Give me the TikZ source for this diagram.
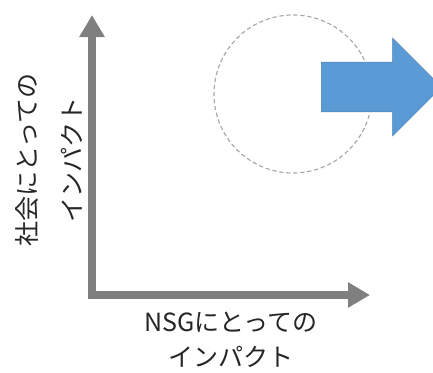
\documentclass[tikz,border=0pt]{standalone}
\usepackage{fontspec}
\setmainfont{Noto Sans CJK JP}
\usetikzlibrary{arrows.meta,shapes.arrows}

\definecolor{axisgray}{HTML}{7F7F7F}
\definecolor{ringgray}{HTML}{A6A6A6}
\definecolor{shiftblue}{HTML}{5B9BD5}
\definecolor{shiftedge}{HTML}{4A7EB0}

\begin{document}
\begin{tikzpicture}[x=0.025cm, y=-0.025cm,
    axis/.style={draw=axisgray, line width=5pt, line join=miter,
        {Triangle[length=0.55cm, width=0.6cm]}-{Triangle[length=0.55cm, width=0.6cm]}},
    ring/.style={circle, draw=ringgray, line width=0.8pt, dash pattern=on 3pt off 2pt, minimum size=3.95cm, inner sep=0pt},
    bigarrow/.style={single arrow, fill=shiftblue, draw=shiftedge, line width=0.4pt,
        minimum height=3cm, inner xsep=0pt, inner ysep=0.6125cm,
        single arrow head extend=0.6cm, single arrow tip angle=90},
    lbl/.style={font=\fontsize{17.8}{24.9}\selectfont, align=center, text=black!85}
]
\clip (0,0) rectangle (433,373);

% axes
\coordinate (O) at (92,295);
\coordinate (ytop) at (92,15);
\coordinate (xend) at (370,295);
\draw[axis] (ytop) -- (O) -- (xend);

% target area and the move out of it
\node[ring] (zone) at (293,94) {};
\node[bigarrow] (move) at (369,87) {};

% axis titles
\node[lbl, rotate=90, font=\fontsize{17.8}{32}\selectfont] (ylab) at (49.5,160) {社会にとっての\\インパクト};
\node[lbl] (xlab) at (231,340) {NSGにとっての\\インパクト};
\end{tikzpicture}
\end{document}
